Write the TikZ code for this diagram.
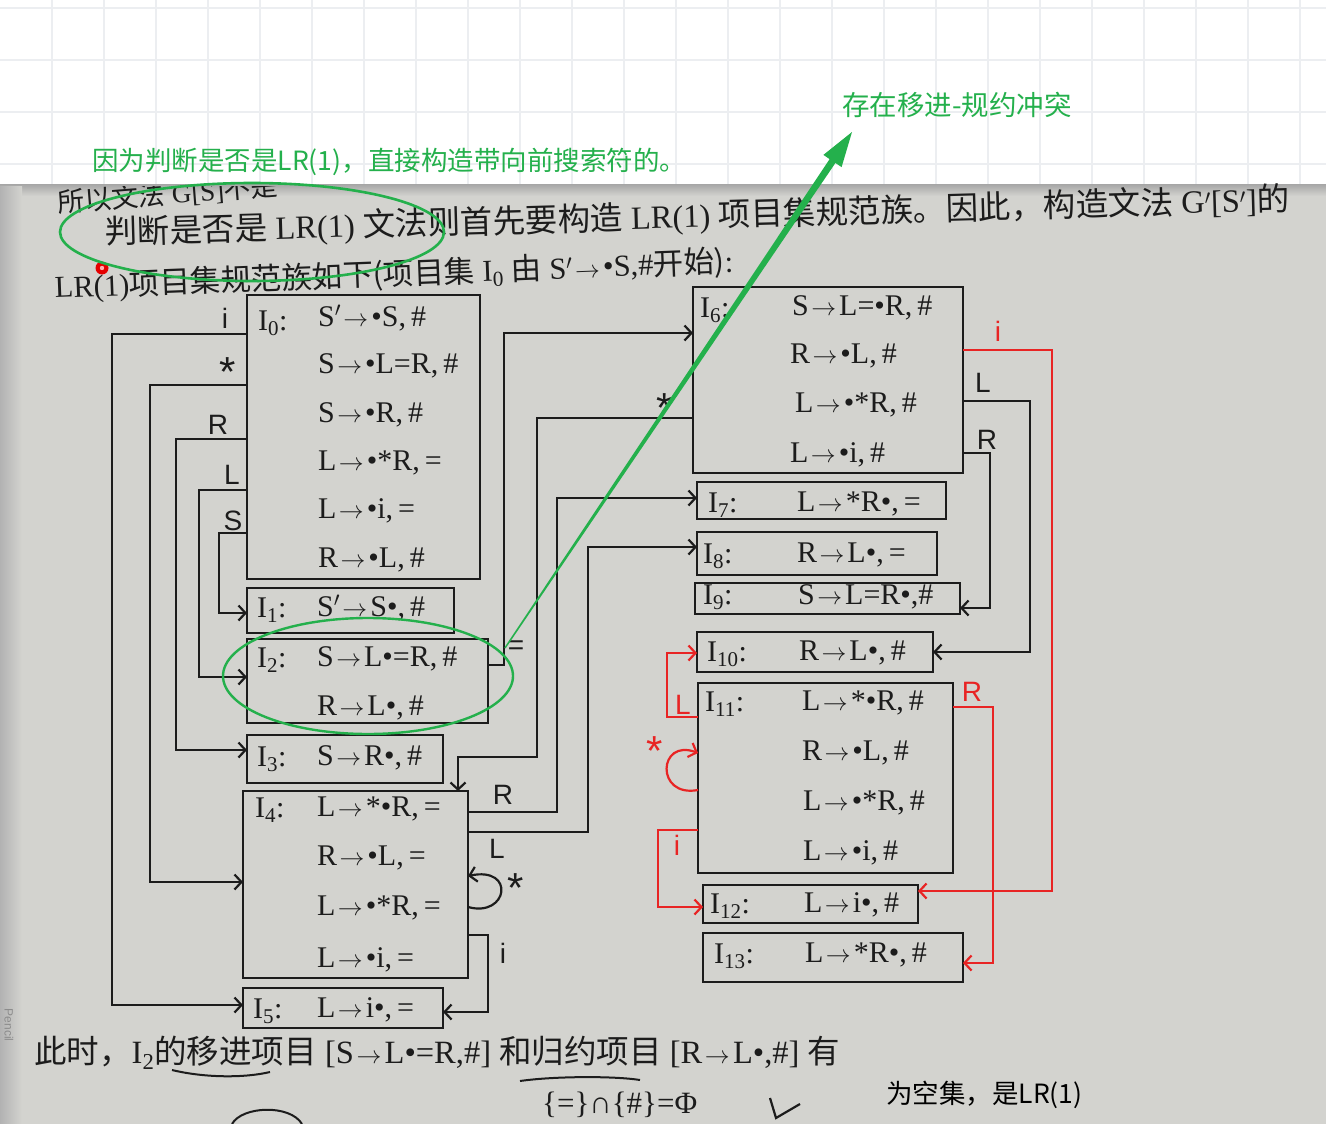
\documentclass[tikz,border=0pt]{standalone}
\usepackage{fontspec}
\setmainfont{Liberation Serif}
\newfontfamily\cjk{Noto Sans CJK SC}
\newfontfamily\handf{Liberation Sans}
\usetikzlibrary{arrows.meta}
\definecolor{ink}{RGB}{28,28,28}
\definecolor{hred}{RGB}{232,36,36}
\definecolor{hgreen}{RGB}{36,176,76}
\definecolor{paper}{RGB}{211,211,207}
\definecolor{gridc}{RGB}{236,238,241}
\newcommand\bk{\fontsize{30}{33}\selectfont}
\newcommand\II[1]{I\textsubscript{#1}:}
\newcommand\ra{\kern0.08em\ensuremath{\rightarrow}\kern0.1em}
\newcommand\pr{\ensuremath{'}}
\begin{document}
\begin{tikzpicture}[x=1pt,y=-1pt,
  box/.style={draw=ink, line width=2.6pt, inner sep=0pt, outer sep=0pt},
  conn/.style={draw=ink, line width=2.2pt, line join=miter, -{Straight Barb[length=7pt,width=15pt]}},
  rconn/.style={draw=hred, line width=2.2pt, -{Straight Barb[length=7pt,width=15pt]}},
  txt/.style={anchor=base west, inner sep=0pt, text=ink, font=\bk},
  lab/.style={inner sep=0pt, text=ink, font=\handf\fontsize{28}{28}\selectfont},
  star/.style={inner sep=0pt, text=ink, font=\handf\fontsize{42}{42}\selectfont},
  rlab/.style={lab, text=hred},
  rstar/.style={star, text=hred},
  gtxt/.style={anchor=base west, inner sep=0pt, text=hgreen},
]
\useasboundingbox (0,0) rectangle (1326,1124);
% white note area with grid
\fill[white] (0,0) rectangle (1326,186);
\foreach \gx in {52,104,...,1326} {\draw[gridc, line width=1.2pt] (\gx,0) -- (\gx,186);}
\foreach \gy in {8,60,112,164} {\draw[gridc, line width=1.2pt] (0,\gy) -- (1326,\gy);}
% photographed page
\fill[paper] (0,186) rectangle (1326,1124);
\shade[top color=black!35, bottom color=paper] (0,184) rectangle (1326,196);
\shade[left color=black!30, right color=paper] (0,186) rectangle (22,1124);
\node[rotate=-90, inner sep=0pt, text=black!45, font=\handf\fontsize{12}{12}\selectfont] (pen) at (9,1025) {Pencil};

% header lines of the book
\begin{scope}
\clip (0,186) rectangle (1326,1124);
\node[txt, rotate=4.5, font=\fontsize{27}{29}\selectfont] (h1) at (58,213) {{\cjk 所以文法} G[S]{\cjk 不是}};
\end{scope}
\node[txt, rotate=1.6, font=\fontsize{32.5}{35}\selectfont] (h2) at (105,244) {{\cjk 判断是否是} LR(1) {\cjk 文法则首先要构造} LR(1) {\cjk 项目集规范族。因此，构造文法} G\pr[S\pr]{\cjk 的}};
\node[txt, rotate=2.2, font=\fontsize{30.5}{33}\selectfont] (h3) at (55,298) {LR(1){\cjk 项目集规范族如下(项目集} I\textsubscript{0} {\cjk 由} S\pr\ra•S,\#{\cjk 开始)}:};

% boxes
\node[box, minimum width=233pt, minimum height=284pt] (I0) at (363.5,437) {};
\node[box, minimum width=207pt, minimum height=45pt] (I1) at (350.5,610.5) {};
\node[box, minimum width=241pt, minimum height=84pt] (I2) at (367.5,681) {};
\node[box, minimum width=196pt, minimum height=48pt] (I3) at (345,759) {};
\node[box, minimum width=225pt, minimum height=187pt] (I4) at (355.5,884.5) {};
\node[box, minimum width=200pt, minimum height=40pt] (I5) at (343,1008) {};
\node[box, minimum width=270pt, minimum height=186pt] (I6) at (828,380) {};
\node[box, minimum width=249pt, minimum height=37pt] (I7) at (821.5,500.5) {};
\node[box, minimum width=240pt, minimum height=43pt] (I8) at (817,553.5) {};
\node[box, minimum width=265pt, minimum height=31pt] (I9) at (827.5,598.5) {};
\node[box, minimum width=236pt, minimum height=40pt] (I10) at (815,652) {};
\node[box, minimum width=255pt, minimum height=190pt] (I11) at (825.5,778) {};
\node[box, minimum width=215pt, minimum height=38pt] (I12) at (810.5,904) {};
\node[box, minimum width=260pt, minimum height=49pt] (I13) at (833,957.5) {};

% box contents
\node[txt] (n0) at (258,330) {\II{0}};
\node[txt] (n0a) at (318,326) {S\pr\ra•S,\,\#};
\node[txt] (n0b) at (318,373) {S\ra•L=R,\,\#};
\node[txt] (n0c) at (318,422) {S\ra•R,\,\#};
\node[txt] (n0d) at (318,470) {L\ra•*R,\,=};
\node[txt] (n0e) at (318,518) {L\ra•i,\,=};
\node[txt] (n0f) at (318,567) {R\ra•L,\,\#};
\node[txt] (n1) at (257,617) {\II{1}};
\node[txt] (n1a) at (317,616) {S\pr\ra S•,\,\#};
\node[txt] (n2) at (257,667) {\II{2}};
\node[txt] (n2a) at (317,666) {S\ra L•=R,\,\#};
\node[txt] (n2b) at (317,715) {R\ra L•,\,\#};
\node[txt] (n3) at (257,766) {\II{3}};
\node[txt] (n3a) at (317,765) {S\ra R•,\,\#};
\node[txt] (n4) at (255,817) {\II{4}};
\node[txt] (n4a) at (317,816) {L\ra*•R,\,=};
\node[txt] (n4b) at (317,865) {R\ra•L,\,=};
\node[txt] (n4c) at (317,915) {L\ra•*R,\,=};
\node[txt] (n4d) at (317,967) {L\ra•i,\,=};
\node[txt] (n5) at (253,1018) {\II{5}};
\node[txt] (n5a) at (317,1017) {L\ra i•,\,=};
\node[txt] (n6) at (700,317) {\II{6}};
\node[txt] (n6a) at (792,315) {S\ra L=•R,\,\#};
\node[txt] (n6b) at (790,363) {R\ra•L,\,\#};
\node[txt] (n6c) at (795,412) {L\ra•*R,\,\#};
\node[txt] (n6d) at (790,462) {L\ra•i,\,\#};
\node[txt] (n7) at (708,512) {\II{7}};
\node[txt] (n7a) at (797,511) {L\ra*R•,\,=};
\node[txt] (n8) at (703,563) {\II{8}};
\node[txt] (n8a) at (797,562) {R\ra L•,\,=};
\node[txt] (n9) at (703,604) {\II{9}};
\node[txt] (n9a) at (798,604) {S\ra L=R•,\#};
\node[txt] (n10) at (707,661) {\II{10}};
\node[txt] (n10a) at (799,660) {R\ra L•,\,\#};
\node[txt] (n11) at (705,711) {\II{11}};
\node[txt] (n11a) at (802,710) {L\ra*•R,\,\#};
\node[txt] (n11b) at (802,760) {R\ra•L,\,\#};
\node[txt] (n11c) at (803,810) {L\ra•*R,\,\#};
\node[txt] (n11d) at (803,860) {L\ra•i,\,\#};
\node[txt] (n12) at (710,913) {\II{12}};
\node[txt] (n12a) at (804,912) {L\ra i•,\,\#};
\node[txt] (n13) at (714,963) {\II{13}};
\node[txt] (n13a) at (805,962) {L\ra*R•,\,\#};

% black connectors
\draw[conn] (I0.west |- 0,334) -- (112,334) |- (I5.west |- 0,1005);
\draw[conn] (I0.west |- 0,385) -- (150,385) |- (I4.west |- 0,882);
\draw[conn] (I0.west |- 0,439) -- (176,439) |- (I3.west |- 0,750);
\draw[conn] (I0.west |- 0,490) -- (199,490) |- (I2.west |- 0,677);
\draw[conn] (I0.west |- 0,533) -- (219,533) |- (I1.west |- 0,613);
\draw[conn] (I2.east |- 0,665) -- (504,665) |- (I6.west |- 0,333);
\draw[conn] (I6.west |- 0,418) -- (537,418) -- (537,757) -- (458,757) -- (I4.north -| 458,0);
\draw[conn] (I4.east |- 0,812) -- (557,812) |- (I7.west |- 0,498);
\draw[conn] (I4.east |- 0,832) -- (588,832) |- (I8.west |- 0,547);
\draw[conn] (I4.east |- 0,907) .. controls (508,918) and (516,866) .. (I4.east |- 0,876);
\draw[conn] (I4.east |- 0,935) -- (488,935) |- (I5.east |- 0,1012);
\draw[conn] (I6.east |- 0,401) -- (1030,401) |- (I10.east |- 0,652);
\draw[conn] (I6.east |- 0,453) -- (990,453) |- (I9.east |- 0,608);
% red connectors
\draw[rconn] (I6.east |- 0,350) -- (1052,350) |- (I12.east |- 0,891);
\draw[rconn] (I11.west |- 0,717) -- (667,717) |- (I10.west |- 0,653);
\draw[rconn] (I11.west |- 0,790) .. controls (655,798) and (658,738) .. (I11.west |- 0,753);
\draw[rconn] (I11.west |- 0,830) -- (658,830) |- (I12.west |- 0,907);
\draw[rconn] (I11.east |- 0,707) -- (993,707) |- (I13.east |- 0,963);

% labels
\node[lab] (la) at (225,318) {i};
\node[star] (lb) at (228,372) {*};
\node[lab] (lc) at (218,425) {R};
\node[lab] (ld) at (232,475) {L};
\node[lab] (le) at (233,521) {S};
\node[lab] (lf) at (516,648) {=};
\node[star] (lg) at (665,408) {*};
\node[lab] (lh) at (503,795) {R};
\node[lab] (li) at (497,849) {L};
\node[star] (lj) at (516,888) {*};
\node[lab] (lk) at (503,953) {i};
\node[rlab] (ll) at (998,331) {i};
\node[lab] (lm) at (983,383) {L};
\node[lab] (ln) at (987,440) {R};
\node[rlab] (lo) at (683,705) {L};
\node[rstar] (lp) at (655,751) {*};
\node[rlab] (lq) at (677,845) {i};
\node[rlab] (lr) at (972,692) {R};

% bottom text
\node[txt, font=\fontsize{32.5}{35}\selectfont] (b1) at (34,1063) {{\cjk 此时，}I\textsubscript{2}{\cjk 的移进项目} [S\ra L•=R,\#] {\cjk 和归约项目} [R\ra L•,\#] {\cjk 有}};
\node[txt, font=\fontsize{31}{33}\selectfont] (b2) at (542,1113) {\{=\}∩\{\#\}=Φ};
\draw[ink, line width=2pt] (172,1070) .. controls (205,1078) and (245,1078) .. (270,1072);
\draw[ink, line width=2pt] (520,1081) .. controls (555,1076) and (615,1076) .. (640,1080);
\draw[ink, line width=2.2pt] (770,1098) -- (776,1118) -- (800,1104);
\draw[ink, line width=2pt] (232,1124) .. controls (242,1106) and (290,1104) .. (302,1124);
\node[anchor=base west, inner sep=0pt, text=black, font=\cjk\fontsize{26.5}{28}\selectfont] (b3) at (886,1103) {为空集，是LR(1)};

% red pointer dot
\fill[red!90!black] (102,268) circle[radius=6.5pt];
\fill[white!70!red] (102,268) circle[radius=2.2pt];

% green annotations
\draw[hgreen, line width=2.6pt] (252,232) ellipse [x radius=192pt, y radius=49pt];
\draw[hgreen, line width=2.4pt] (368,676) ellipse [x radius=145pt, y radius=58pt];
\fill[hgreen] (504.4,647.6) -- (829.6,159.1) -- (823.4,154.9) -- (852,132) -- (841.6,167.1) -- (835.4,163.0) -- (505.6,648.4) -- cycle;
\node[gtxt, font=\cjk\fontsize{26.5}{28}\selectfont] (g1) at (92,170) {因为判断是否是LR(1)，直接构造带向前搜索符的。};
\node[gtxt, font=\cjk\fontsize{27.5}{29}\selectfont] (g2) at (842,115) {存在移进-规约冲突};
\end{tikzpicture}
\end{document}
